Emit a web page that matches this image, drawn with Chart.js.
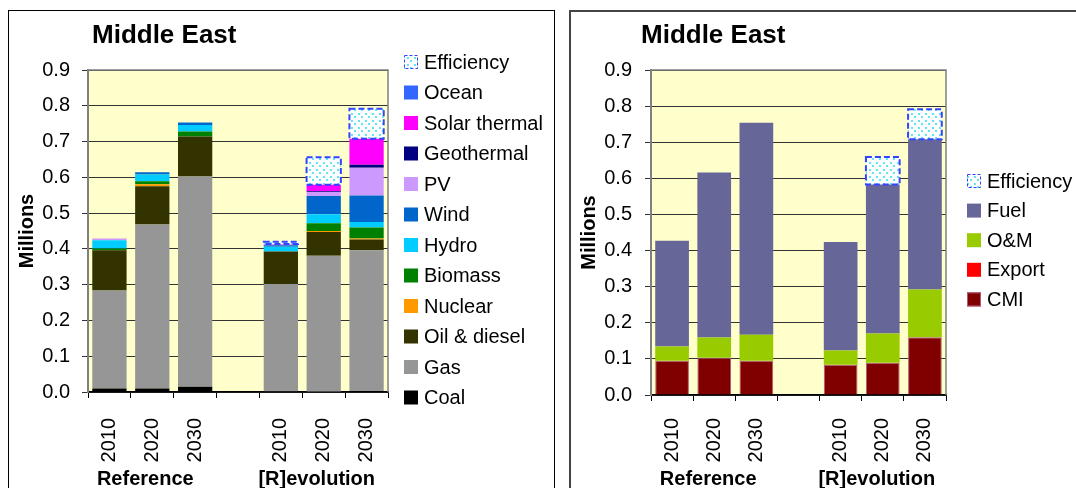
<!DOCTYPE html>
<html>
<head>
<meta charset="utf-8">
<script src="https://cdn.jsdelivr.net/npm/chart.js@4.4.0/dist/chart.umd.min.js"></script>
<style>
  body { margin: 0; background: #fff; width: 1076px; height: 488px; overflow: hidden; position: relative; }
  .panel { position: absolute; box-sizing: border-box; }
  #panelLeft { left: 8px; top: 10px; width: 547px; height: 500px; border: 1px solid #000; }
  #panelRight { left: 569px; top: 10px; width: 530px; height: 500px; border: 2px solid #444; }
  canvas { position: absolute; top: 0; }
  #energyChart { left: 0; }
  #costChart { left: 560px; }
</style>
</head>
<body>
<div class="panel" id="panelLeft"></div>
<div class="panel" id="panelRight"></div>
<canvas id="energyChart" width="560" height="488"></canvas>
<canvas id="costChart" width="516" height="488"></canvas>

<script>
// ---- data (millions) ----
const years = ['2010', '2020', '2030', '', '2010', '2020', '2030'];
const groupNames = ['Reference', '[R]evolution'];
const chartTitle = 'Middle East';
const yLabel = 'Millions';
const yMax = 0.9;
const yStep = 0.1;

// left chart: generation by source (bottom of stack first)
const coal       = [0.010, 0.010, 0.015, null, 0.002, 0.000, 0.003];
const gas        = [0.274, 0.458, 0.587, null, 0.300, 0.381, 0.393];
const oilDiesel  = [0.112, 0.107, 0.112, null, 0.091, 0.066, 0.030];
const nuclear    = [0.000, 0.006, 0.000, null, 0.000, 0.003, 0.003];
const biomass    = [0.005, 0.008, 0.014, null, 0.000, 0.022, 0.031];
const hydro      = [0.023, 0.019, 0.018, null, 0.013, 0.025, 0.015];
const wind       = [0.000, 0.006, 0.007, null, 0.004, 0.051, 0.074];
const pv         = [0.005, 0.000, 0.000, null, 0.002, 0.011, 0.078];
const geothermal = [0.000, 0.000, 0.000, null, 0.000, 0.002, 0.008];
const solarTherm = [0.000, 0.000, 0.000, null, 0.002, 0.018, 0.073];
const ocean      = [0.000, 0.000, 0.000, null, 0.000, 0.000, 0.000];
const efficiency = [0.000, 0.000, 0.000, null, 0.006, 0.077, 0.084];

// right chart: cost components
const cmi        = [0.095, 0.103, 0.095, null, 0.084, 0.089, 0.160];
const exportCost = [0.000, 0.000, 0.000, null, 0.000, 0.000, 0.000];
const om         = [0.039, 0.056, 0.072, null, 0.039, 0.081, 0.132];
const fuel       = [0.293, 0.457, 0.587, null, 0.301, 0.413, 0.416];
const effCost    = [0.000, 0.000, 0.000, null, 0.000, 0.076, 0.083];

const FONT = '"Liberation Sans", Arial, Helvetica, sans-serif';

function dotPattern(ctx) {
    const c = document.createElement('canvas');
    c.width = 7; c.height = 7;
    const g = c.getContext('2d');
    g.fillStyle = '#ffffff';
    g.fillRect(0, 0, 7, 7);
    g.fillStyle = '#5ee6f2';
    g.fillRect(1, 1, 2, 2);
    g.fillRect(4, 4, 2, 2);
    return ctx.createPattern(c, 'repeat');
}

// background, titles, group labels, legend, dashed efficiency outline
const decorPlugin = {
    id: 'decor',
    beforeDraw(chart, args, opts) {
        const { ctx, chartArea: a } = chart;
        ctx.save();
        ctx.fillStyle = '#ffffcc';
        ctx.fillRect(a.left, a.top, a.right - a.left, a.bottom - a.top);
        ctx.restore();
    },
    afterDatasetsDraw(chart) {
        const ctx = chart.ctx;
        chart.data.datasets.forEach((ds, i) => {
            if (!ds.dashed) return;
            chart.getDatasetMeta(i).data.forEach((el, j) => {
                if (!ds.data[j]) return;
                const { x, y, base, width } = el.getProps(['x', 'y', 'base', 'width'], true);
                ctx.save();
                ctx.strokeStyle = '#3344ff';
                ctx.lineWidth = 2;
                ctx.setLineDash([6, 3]);
                ctx.strokeRect(x - width / 2, y, width, base - y);
                ctx.restore();
            });
        });
    },
    afterDraw(chart, args, opts) {
        const { ctx, chartArea: a } = chart;
        const xs = chart.scales.x;
        ctx.save();
        // plot border top / right
        ctx.strokeStyle = '#808080';
        ctx.lineWidth = 1.5;
        ctx.beginPath();
        ctx.moveTo(a.left, a.top);
        ctx.lineTo(a.right, a.top);
        ctx.lineTo(a.right, a.bottom);
        ctx.stroke();

        ctx.fillStyle = '#000';
        ctx.textBaseline = 'alphabetic';
        ctx.font = 'bold 26px ' + FONT;
        ctx.textAlign = 'left';
        ctx.fillText(chartTitle, opts.titleX, 43);

        ctx.font = 'bold 20px ' + FONT;
        ctx.textAlign = 'center';
        ctx.fillText(groupNames[0], xs.getPixelForValue(1) + opts.groupShift, 485);
        ctx.fillText(groupNames[1], xs.getPixelForValue(5) + opts.groupShift, 485);

        // legend, top item = last dataset
        ctx.font = '20px ' + FONT;
        ctx.textAlign = 'left';
        ctx.textBaseline = 'middle';
        const items = chart.data.datasets.slice().reverse();
        items.forEach((ds, k) => {
            const cy = opts.legendY + k * opts.legendStep;
            const bx = opts.legendX, by = cy - 7;
            ctx.fillStyle = ds.backgroundColor;
            ctx.fillRect(bx, by, 14, 14);
            if (ds.dashed) {
                ctx.save();
                ctx.strokeStyle = '#3344ff';
                ctx.lineWidth = 1;
                ctx.setLineDash([3, 2]);
                ctx.strokeRect(bx + 0.5, by + 0.5, 13, 13);
                ctx.restore();
            } else if (ds.borderWidth) {
                ctx.strokeStyle = ds.borderColor;
                ctx.lineWidth = 1;
                ctx.strokeRect(bx + 0.5, by + 0.5, 13, 13);
            }
            ctx.fillStyle = '#000';
            ctx.fillText(ds.label, bx + 20, cy + 1);
        });
        ctx.restore();
    }
};

function buildChart(canvasId, datasets, lay) {
    const canvas = document.getElementById(canvasId);
    return new Chart(canvas, {
        type: 'bar',
        data: { labels: years, datasets: datasets },
        options: {
            responsive: false,
            animation: false,
            layout: { padding: { top: lay.top, right: lay.right, bottom: 0, left: 0 } },
            datasets: { bar: { barPercentage: 0.8, categoryPercentage: 1.0 } },
            plugins: {
                legend: { display: false },
                tooltip: { enabled: false },
                decor: lay.decor
            },
            scales: {
                x: {
                    stacked: true,
                    grid: { drawOnChartArea: false, drawTicks: true, tickLength: 6, tickColor: '#000', offset: true },
                    border: { color: '#000', width: 1.5 },
                    ticks: {
                        color: '#000', font: { family: FONT, size: 20 },
                        minRotation: 90, maxRotation: 90, autoSkip: false, padding: lay.xPad
                    },
                    afterFit: (s) => { s.height = lay.xHeight; }
                },
                y: {
                    stacked: true,
                    min: 0, max: yMax,
                    grid: { color: '#333', lineWidth: 1, tickLength: 6, tickColor: '#333' },
                    border: { color: '#808080', width: 2 },
                    ticks: {
                        stepSize: yStep, color: '#000', padding: lay.tickPad,
                        font: { family: FONT, size: 20 },
                        callback: (v) => v.toFixed(1)
                    },
                    title: {
                        display: true, text: yLabel, color: '#000',
                        font: { family: FONT, size: 20, weight: 'bold' },
                        padding: { top: lay.titlePad, bottom: 0 }
                    },
                    afterFit: (s) => { s.width = lay.yWidth; }
                }
            }
        },
        plugins: [decorPlugin]
    });
}

const ctxL = document.getElementById('energyChart').getContext('2d');
const ctxR = document.getElementById('costChart').getContext('2d');

buildChart('energyChart', [
    { label: 'Coal', data: coal, backgroundColor: '#000000' },
    { label: 'Gas', data: gas, backgroundColor: '#969696' },
    { label: 'Oil & diesel', data: oilDiesel, backgroundColor: '#333300' },
    { label: 'Nuclear', data: nuclear, backgroundColor: '#ff9900' },
    { label: 'Biomass', data: biomass, backgroundColor: '#008000' },
    { label: 'Hydro', data: hydro, backgroundColor: '#00ccff' },
    { label: 'Wind', data: wind, backgroundColor: '#0066cc' },
    { label: 'PV', data: pv, backgroundColor: '#cc99ff' },
    { label: 'Geothermal', data: geothermal, backgroundColor: '#000080' },
    { label: 'Solar thermal', data: solarTherm, backgroundColor: '#ff00ff' },
    { label: 'Ocean', data: ocean, backgroundColor: '#3366ff' },
    { label: 'Efficiency', data: efficiency, backgroundColor: dotPattern(ctxL), dashed: true }
], {
    top: 70, right: 172, xHeight: 96, yWidth: 88, tickPad: 12, titlePad: 15, xPad: 20,
    decor: { titleX: 92, groupShift: -7, legendX: 404, legendY: 62, legendStep: 30.5 }
});

buildChart('costChart', [
    { label: 'CMI', data: cmi, backgroundColor: '#800000', borderColor: '#b05a7a', borderWidth: 1 },
    { label: 'Export', data: exportCost, backgroundColor: '#ff0000' },
    { label: 'O&M', data: om, backgroundColor: '#99cc00' },
    { label: 'Fuel', data: fuel, backgroundColor: '#666699' },
    { label: 'Efficiency', data: effCost, backgroundColor: dotPattern(ctxR), dashed: true }
], {
    top: 70, right: 130, xHeight: 93, yWidth: 91, tickPad: 13, titlePad: 17, xPad: 17,
    decor: { titleX: 81, groupShift: -6, legendX: 407, legendY: 181, legendStep: 29.6 }
});
</script>
</body>
</html>
